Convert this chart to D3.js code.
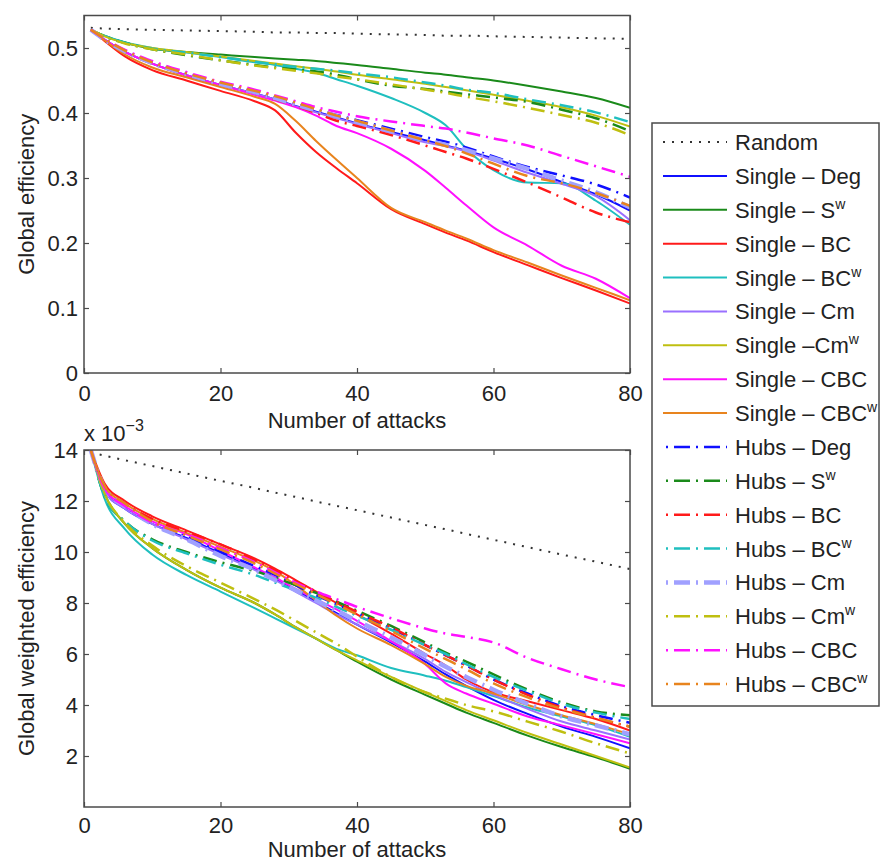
<!DOCTYPE html>
<html>
<head>
<meta charset="utf-8">
<script src="https://cdn.jsdelivr.net/npm/d3@7"></script>
<style>
  body { margin: 0; background: #fff; }
  text { font-family: "Liberation Sans", Arial, Helvetica, sans-serif; fill: #222; }
</style>
</head>
<body>
<div id="container"></div>
<script>
/**
 * DATA
 * values, common attack grid
 */
const attacks = [1, 3, 6, 10, 15, 20, 25, 28, 31, 34, 37, 40, 45, 50, 53, 56, 60, 65, 70, 75, 80];

const seriesLabels = [
  ["Random", ""], ["Single – Deg", ""], ["Single – S", "w"], ["Single – BC", ""],
  ["Single – BC", "w"], ["Single – Cm", ""], ["Single –Cm", "w"], ["Single – CBC", ""],
  ["Single – CBC", "w"], ["Hubs – Deg", ""], ["Hubs – S", "w"], ["Hubs – BC", ""],
  ["Hubs – BC", "w"], ["Hubs – Cm", ""], ["Hubs – Cm", "w"], ["Hubs – CBC", ""],
  ["Hubs – CBC", "w"]
];

// global efficiency (top panel)
const effRandom     = [.531,.530,.529,.528,.527,.526,.525,.524,.524,.523,.523,.522,.521,.520,.519,.519,.518,.517,.516,.515,.514];
const effSingleDeg  = [.528,.513,.494,.476,.458,.443,.430,.421,.411,.402,.393,.384,.371,.358,.350,.342,.330,.313,.294,.275,.250];
const effSingleSw   = [.528,.519,.508,.499,.494,.490,.486,.484,.482,.480,.477,.474,.468,.462,.459,.455,.450,.442,.433,.423,.408];
const effSingleBC   = [.528,.511,.487,.466,.450,.434,.418,.404,.370,.340,.315,.292,.252,.229,.216,.204,.186,.166,.146,.127,.107];
const effSingleBCw  = [.528,.519,.509,.500,.493,.486,.478,.474,.468,.462,.452,.442,.423,.400,.381,.345,.312,.293,.292,.265,.228];
const effSingleCm   = [.528,.513,.494,.476,.458,.443,.430,.421,.410,.401,.392,.383,.369,.355,.349,.341,.327,.308,.291,.272,.235];
const effSingleCmw  = [.528,.518,.508,.500,.494,.487,.480,.476,.472,.468,.464,.459,.452,.445,.440,.435,.428,.419,.409,.396,.379];
const effSingleCBC  = [.528,.513,.494,.476,.458,.443,.428,.419,.409,.396,.380,.369,.345,.311,.285,.258,.224,.196,.165,.145,.115];
const effSingleCBCw = [.528,.512,.490,.470,.455,.440,.425,.414,.388,.357,.328,.300,.254,.232,.219,.207,.189,.170,.150,.131,.112];
const effHubsDeg    = [.528,.513,.495,.477,.460,.445,.432,.423,.414,.405,.397,.389,.376,.363,.356,.347,.333,.317,.304,.290,.270];
const effHubsSw     = [.528,.518,.508,.498,.489,.481,.474,.470,.467,.464,.459,.452,.442,.437,.433,.429,.424,.417,.405,.392,.372];
const effHubsBC     = [.528,.513,.494,.476,.458,.444,.431,.421,.411,.400,.388,.380,.366,.350,.340,.330,.314,.293,.270,.247,.232];
const effHubsBCw    = [.528,.518,.508,.499,.493,.486,.479,.475,.471,.468,.465,.461,.455,.447,.442,.436,.431,.421,.412,.401,.386];
const effHubsCm     = [.528,.513,.495,.477,.460,.445,.432,.423,.413,.404,.395,.386,.372,.358,.351,.343,.330,.314,.296,.278,.255];
const effHubsCmw    = [.528,.518,.507,.498,.490,.481,.473,.469,.465,.461,.456,.452,.444,.436,.431,.425,.418,.408,.397,.385,.366];
const effHubsCBC    = [.528,.514,.497,.480,.463,.448,.436,.427,.418,.409,.402,.395,.387,.380,.376,.370,.361,.350,.334,.318,.302];
const effHubsCBCw   = [.528,.514,.496,.478,.461,.447,.434,.426,.416,.406,.396,.388,.373,.358,.349,.338,.322,.303,.292,.277,.257];

// global weighted efficiency, x 10^-3 (bottom panel)
const wRandom     = [13.89,13.78,13.60,13.37,13.08,12.79,12.51,12.33,12.16,11.98,11.81,11.64,11.35,11.06,10.89,10.71,10.48,10.19,9.90,9.62,9.33];
const wSingleDeg  = [14.0,12.4,11.7,11.1,10.55,9.95,9.35,8.95,8.5,8.05,7.6,7.15,6.45,5.7,5.2,4.75,4.2,3.65,3.15,2.75,2.3];
const wSingleSw   = [14.0,12.3,11.1,10.15,9.3,8.6,8.0,7.55,7.05,6.6,6.15,5.7,5.0,4.4,4.05,3.7,3.3,2.8,2.35,1.95,1.5];
const wSingleBC   = [14.0,12.7,12.0,11.4,10.85,10.3,9.75,9.35,8.9,8.45,8.0,7.55,6.8,6.0,5.55,5.0,4.5,4.15,3.8,3.45,3.0];
const wSingleBCw  = [14.0,12.1,10.9,9.9,9.1,8.45,7.8,7.4,7.0,6.6,6.2,5.95,5.45,5.15,4.95,4.7,4.35,3.9,3.55,3.2,2.75];
const wSingleCm   = [14.0,12.4,11.7,11.1,10.5,9.9,9.3,8.9,8.45,8.0,7.55,7.15,6.5,5.8,5.3,4.9,4.4,3.85,3.35,3.0,2.65];
const wSingleCmw  = [14.0,12.3,11.1,10.15,9.3,8.6,8.0,7.55,7.05,6.6,6.15,5.75,5.1,4.5,4.15,3.8,3.4,2.9,2.45,2.0,1.55];
const wSingleCBC  = [14.0,12.5,11.8,11.2,10.7,10.05,9.4,9.0,8.55,8.15,7.75,7.3,6.5,5.6,4.85,4.45,4.05,3.55,3.2,2.85,2.5];
const wSingleCBCw = [14.0,12.6,11.9,11.3,10.75,10.2,9.65,9.25,8.7,8.1,7.5,7.0,6.35,5.6,5.1,4.75,4.45,4.0,3.6,3.25,2.85];
const wHubsDeg    = [14.0,12.5,11.8,11.1,10.6,10.0,9.45,9.1,8.7,8.3,7.95,7.6,7.0,6.35,5.95,5.55,5.0,4.45,3.95,3.6,3.3];
const wHubsSw     = [14.0,12.2,11.2,10.5,10.0,9.6,9.25,9.0,8.7,8.4,8.05,7.7,7.1,6.45,6.05,5.7,5.2,4.6,4.1,3.75,3.6];
const wHubsBC     = [14.0,12.6,11.9,11.3,10.8,10.3,9.7,9.3,8.85,8.45,8.05,7.65,7.05,6.35,5.95,5.55,5.0,4.4,3.9,3.5,3.15];
const wHubsBCw    = [14.0,12.2,11.2,10.45,9.95,9.5,9.1,8.8,8.5,8.2,7.85,7.5,6.95,6.35,6.0,5.6,5.1,4.55,4.05,3.7,3.45];
const wHubsCm     = [14.0,12.5,11.8,11.1,10.5,9.85,9.3,8.9,8.5,8.1,7.7,7.3,6.65,5.95,5.5,5.1,4.6,4.05,3.55,3.2,2.85];
const wHubsCmw    = [14.0,12.3,11.15,10.25,9.45,8.8,8.15,7.75,7.3,6.85,6.4,5.9,5.1,4.5,4.25,4.0,3.75,3.35,2.95,2.5,2.1];
const wHubsCBC    = [14.0,12.5,11.8,11.15,10.7,10.15,9.6,9.2,8.8,8.45,8.15,7.85,7.4,7.0,6.8,6.67,6.45,5.85,5.4,5.0,4.7];
const wHubsCBCw   = [14.0,12.6,11.9,11.2,10.65,10.1,9.55,9.15,8.75,8.35,7.95,7.55,6.9,6.2,5.8,5.4,4.85,4.3,3.85,3.5,3.15];

const effSeries = [effRandom, effSingleDeg, effSingleSw, effSingleBC, effSingleBCw, effSingleCm, effSingleCmw,
  effSingleCBC, effSingleCBCw, effHubsDeg, effHubsSw, effHubsBC, effHubsBCw, effHubsCm, effHubsCmw, effHubsCBC, effHubsCBCw];
const wSeries = [wRandom, wSingleDeg, wSingleSw, wSingleBC, wSingleBCw, wSingleCm, wSingleCmw,
  wSingleCBC, wSingleCBCw, wHubsDeg, wHubsSw, wHubsBC, wHubsBCw, wHubsCm, wHubsCmw, wHubsCBC, wHubsCBCw];

/**
 * STYLES
 */
const DOT = "2,7", DASHDOT = "14,6,2,6";
const styles = [
  { color: "#333", dash: DOT, w: 2 },
  { color: "#1010ff", dash: null, w: 2 },
  { color: "#1a8a1a", dash: null, w: 2 },
  { color: "#ff1a1a", dash: null, w: 2 },
  { color: "#1fbfbf", dash: null, w: 2 },
  { color: "#9a70ff", dash: null, w: 2 },
  { color: "#bfbf10", dash: null, w: 2 },
  { color: "#ff10ff", dash: null, w: 2 },
  { color: "#e8841e", dash: null, w: 2 },
  { color: "#1010ff", dash: DASHDOT, w: 2.5 },
  { color: "#1a8a1a", dash: DASHDOT, w: 2.5 },
  { color: "#ff1a1a", dash: DASHDOT, w: 2.5 },
  { color: "#1fbfbf", dash: DASHDOT, w: 2.5 },
  { color: "#a0a0ff", dash: DASHDOT, w: 4.5 },
  { color: "#bfbf10", dash: DASHDOT, w: 2.5 },
  { color: "#ff10ff", dash: DASHDOT, w: 2.5 },
  { color: "#e8841e", dash: DASHDOT, w: 2.5 }
];

const width = 880, height = 864;
const frameColor = "#4a4a4a";

const svg = d3.select("#container").append("svg")
  .attr("width", width).attr("height", height);

const x = d3.scaleLinear().domain([0, 80]).range([84, 630]);

function drawPanel(opts, idx) {
  const y = d3.scaleLinear().domain(opts.domain).range([opts.bottom, opts.top]);
  const g = svg.append("g");

  g.append("clipPath").attr("id", "clip" + idx)
    .append("rect").attr("x", x.range()[0]).attr("y", opts.top)
    .attr("width", x.range()[1] - x.range()[0]).attr("height", opts.bottom - opts.top);

  const line = d3.line()
    .x((d, i) => x(attacks[i]))
    .y(d => y(d))
    .curve(d3.curveMonotoneX);

  g.append("g").attr("clip-path", `url(#clip${idx})`)
    .selectAll("path")
    .data(opts.series)
    .join("path")
    .attr("d", d => line(d))
    .attr("fill", "none")
    .attr("stroke", (d, i) => styles[i].color)
    .attr("stroke-width", (d, i) => styles[i].w)
    .attr("stroke-dasharray", (d, i) => styles[i].dash)
    .attr("stroke-linejoin", "round");

  // axes, ticks pointing inward like a boxed plot
  const xAxis = g.append("g").attr("transform", `translate(0,${opts.bottom})`)
    .call(d3.axisBottom(x).tickValues([0, 20, 40, 60, 80]).tickSize(-5).tickPadding(opts.xPad));
  const xTop = g.append("g").attr("transform", `translate(0,${opts.top})`)
    .call(d3.axisTop(x).tickValues([0, 20, 40, 60, 80]).tickSize(-5).tickFormat(""));
  const yAxis = g.append("g").attr("transform", `translate(${x.range()[0]},0)`)
    .call(d3.axisLeft(y).tickValues(opts.ticks).tickSize(-5).tickPadding(6).tickFormat(d3.format("~g")));
  const yRight = g.append("g").attr("transform", `translate(${x.range()[1]},0)`)
    .call(d3.axisRight(y).tickValues(opts.ticks).tickSize(-5).tickFormat(""));

  [xAxis, xTop, yAxis, yRight].forEach(a => {
    a.select(".domain").remove();
    a.selectAll("line").attr("stroke", frameColor).attr("stroke-width", 1.2);
    a.selectAll("text").attr("font-size", 22).attr("fill", "#222")
      .attr("font-family", '"Liberation Sans", Arial, sans-serif');
  });

  g.append("rect")
    .attr("x", x.range()[0]).attr("y", opts.top)
    .attr("width", x.range()[1] - x.range()[0]).attr("height", opts.bottom - opts.top)
    .attr("fill", "none").attr("stroke", frameColor).attr("stroke-width", 1.5);

  g.append("text")
    .attr("x", (x.range()[0] + x.range()[1]) / 2).attr("y", opts.xLabelY)
    .attr("text-anchor", "middle").attr("font-size", 22)
    .text("Number of attacks");

  g.append("text")
    .attr("transform", `translate(34,${(opts.top + opts.bottom) / 2}) rotate(-90)`)
    .attr("text-anchor", "middle").attr("font-size", 22)
    .text(opts.yLabel);
}

drawPanel({
  top: 15.5, bottom: 373, domain: [0, 0.55], ticks: [0, 0.1, 0.2, 0.3, 0.4, 0.5],
  series: effSeries, xPad: 12, xLabelY: 428, yLabel: "Global efficiency"
}, 0);

drawPanel({
  top: 450, bottom: 807, domain: [0, 14], ticks: [2, 4, 6, 8, 10, 12, 14],
  series: wSeries, xPad: 10, xLabelY: 857, yLabel: "Global weighted efficiency"
}, 1);

// exponent label of the bottom panel
const expo = svg.append("text").attr("x", 84).attr("y", 441).attr("font-size", 22);
expo.append("tspan").text("x 10");
expo.append("tspan").attr("dy", -10).attr("font-size", 16).text("−3");

/**
 * LEGEND
 */
const legend = svg.append("g");
legend.append("rect")
  .attr("x", 652).attr("y", 123).attr("width", 227).attr("height", 583)
  .attr("fill", "#fff").attr("stroke", frameColor).attr("stroke-width", 1.5);

const rowY = d3.scalePoint().domain(d3.range(seriesLabels.length)).range([142, 684]);

const rows = legend.selectAll("g.row")
  .data(seriesLabels)
  .join("g")
  .attr("class", "row")
  .attr("transform", (d, i) => `translate(0,${rowY(i)})`);

rows.append("line")
  .attr("x1", 663).attr("x2", 727)
  .attr("stroke", (d, i) => styles[i].color)
  .attr("stroke-width", (d, i) => styles[i].w)
  .attr("stroke-dasharray", (d, i) => styles[i].dash ? (styles[i].dash === DOT ? "2,7" : "0,3,2,6,16,6,2,6,16,6,2,6") : null);

const labels = rows.append("text")
  .attr("x", 735).attr("y", 8).attr("font-size", 22);
labels.append("tspan").text(d => d[0]);
labels.filter(d => d[1]).append("tspan")
  .attr("dy", -9).attr("font-size", 14).text(d => d[1]);
</script>
</body>
</html>
